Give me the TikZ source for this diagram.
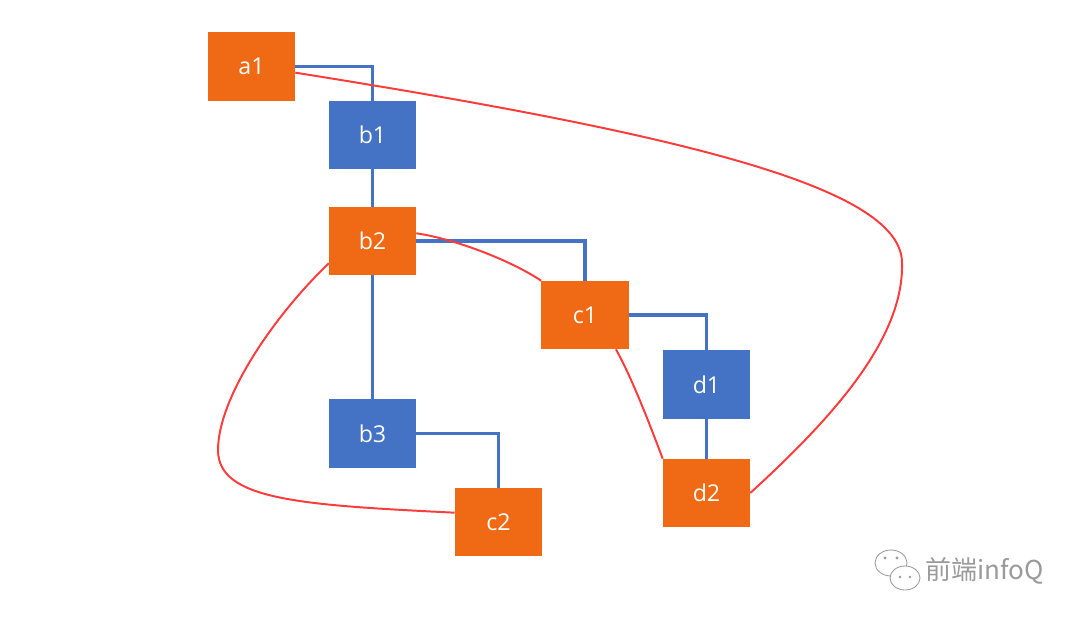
\documentclass[tikz,border=0pt]{standalone}
\usepackage{fontspec}
\setmainfont{Open Sans}
\newfontfamily\cjkfont{Noto Sans CJK SC}
\usepackage{xcolor}
\usetikzlibrary{calc}
\definecolor{boxorange}{HTML}{F06A15}
\definecolor{boxblue}{HTML}{4472C4}
\definecolor{linkred}{HTML}{FF3B3B}
\definecolor{markgray}{HTML}{9A9A9A}

\begin{document}
\begin{tikzpicture}[x=0.025cm,y=-0.025cm,
  box/.style={minimum width=2.175cm,minimum height=1.7cm,inner sep=0pt,
    text=white,font=\fontsize{16.5}{19}\selectfont},
  obox/.style={box,fill=boxorange},
  bbox/.style={box,fill=boxblue},
  tree/.style={draw=boxblue,line width=2.2pt},
  link/.style={draw=linkred,line width=1.4pt}]
\useasboundingbox (0,0) rectangle (1080,619);
% nodes
\node[obox] (a1) at (251.5,66.5) {a1};
\node[bbox] (b1) at (372.5,135) {b1};
\node[obox] (b2) at (372.5,241) {b2};
\node[obox] (c1) at (585,315) {c1};
\node[bbox] (d1) at (706.5,384.5) {d1};
\node[bbox] (b3) at (372.5,433.5) {b3};
\node[obox] (c2) at (498.5,522) {c2};
\node[obox] (d2) at (706.5,493) {d2};
% blue links
\draw[tree](a1.east) -| (b1.north);
\draw[tree](b1.south) -- (b2.north);
\draw[tree](b2.east) -| (c1.north);
\draw[tree](b2.south) -- (b3.north);
\draw[tree](b3.east) -| (c2.north);
\draw[tree](c1.east) -| (d1.north);
\draw[tree](d1.south) -- (d2.north);
% red links
\coordinate (rbend) at (902,263);
\coordinate (lbend) at (218,450);
\draw[link](a1.-8) .. controls (700,137) and (902,190) .. (rbend)
  .. controls (904,340) and (830,420) .. (d2.east);
\draw[link](b2.10) .. controls (455,239) and (510,260) .. (c1.north west);
\draw[link](c1.-48) .. controls (632,378) and (650,425) .. (d2.north west);
\draw[link](b2.207) .. controls (270,320) and (218,400) .. (lbend)
  .. controls (218,500) and (300,505) .. (c2.168);
% watermark
\begin{scope}[draw=markgray,fill=white,line width=0.6pt]
\draw (891,563) ellipse [x radius=16,y radius=13];
\fill[markgray] (885,558) circle (1.6) (897,558) circle (1.6);
\draw[fill=white] (905,578) ellipse [x radius=15,y radius=12];
\fill[markgray] (900,577) circle (1.4) (910,577) circle (1.4);
\end{scope}
\node[text=markgray,anchor=west,inner sep=0pt,font=\cjkfont\fontsize{18.5}{21}\selectfont] (mark) at (925,571) {前端infoQ};
\end{tikzpicture}
\end{document}
